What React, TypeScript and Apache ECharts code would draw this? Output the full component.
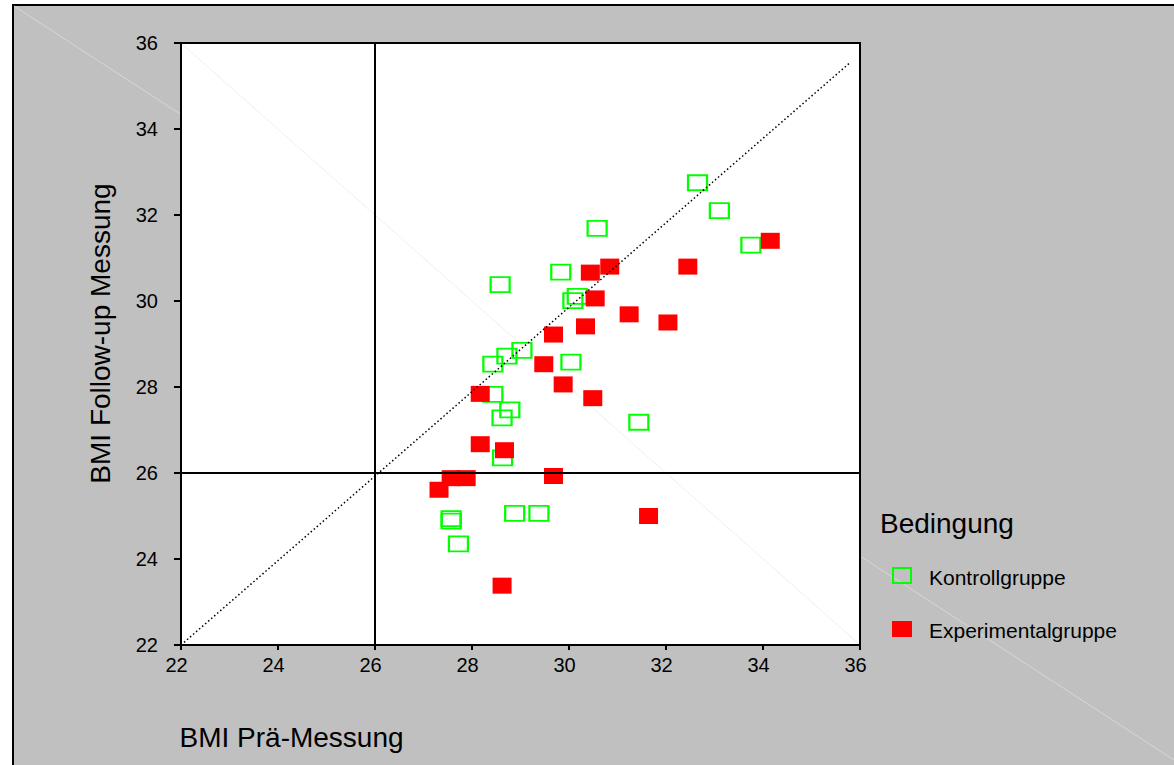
import React, { useEffect, useRef } from "react";
import * as echarts from "echarts";

// ---- Data ----
const axisMin = 22;
const axisMax = 36;
const axisStep = 2;

const kontrollPre = [32.65, 33.1, 30.58, 33.75, 29.83, 28.58, 30.08, 30.17, 28.72, 29.03, 28.43, 30.04, 28.43, 28.78, 28.62, 31.44, 28.63, 27.57, 27.57, 28.88, 29.38, 27.72];
const kontrollFollow = [32.75, 32.1, 31.69, 31.3, 30.67, 30.38, 30.01, 30.11, 28.72, 28.85, 28.53, 28.58, 27.83, 27.47, 27.28, 27.18, 26.35, 24.94, 24.88, 25.06, 25.06, 24.35];

const expPre = [34.15, 32.45, 30.84, 30.44, 30.54, 31.24, 32.04, 30.34, 29.68, 29.48, 29.88, 30.49, 28.17, 28.17, 28.67, 29.68, 27.57, 27.88, 27.32, 31.64, 28.62];
const expFollow = [31.4, 30.8, 30.8, 30.66, 30.06, 29.69, 29.5, 29.41, 29.22, 28.53, 28.06, 27.74, 27.84, 26.67, 26.53, 25.93, 25.88, 25.88, 25.61, 25.0, 23.38];

const refX = 26;
const refY = 26;
const diagonalLine = [
  [22, 22],
  [35.8, 35.55],
];

const seriesNames = ["Kontrollgruppe", "Experimentalgruppe"];
const legendTitle = "Bedingung";
const xTitle = "BMI Prä-Messung";
const yTitle = "BMI Follow-up Messung";

const FONT = "'Liberation Sans', Arial, sans-serif";

export default function App() {
  const ref = useRef<HTMLDivElement>(null);

  useEffect(() => {
    document.body.style.margin = "0";
    if (!ref.current) return;
    const chart = echarts.init(ref.current, null, { renderer: "svg" });

    const kontrollData = kontrollPre.map((x, i) => [x, kontrollFollow[i]]);
    const expData = expPre.map((x, i) => [x, expFollow[i]]);

    const option: any = {
      animation: false,
      backgroundColor: "#ffffff",
      grid: {
        left: 181,
        right: 314,
        top: 43,
        bottom: 120,
        show: true,
        backgroundColor: "#ffffff",
        borderColor: "#000000",
        borderWidth: 2,
      },
      xAxis: {
        type: "value",
        min: axisMin,
        max: axisMax,
        interval: axisStep,
        axisLine: { show: false },
        splitLine: { show: false },
        axisTick: { show: true, length: 5, lineStyle: { color: "#000", width: 2 } },
        axisLabel: {
          fontSize: 20,
          color: "#000",
          fontFamily: FONT,
          margin: 10,
          padding: [0, 9, 0, 0],
        },
      },
      yAxis: {
        type: "value",
        min: axisMin,
        max: axisMax,
        interval: axisStep,
        axisLine: { show: false },
        splitLine: { show: false },
        axisTick: { show: true, length: 7, lineStyle: { color: "#000", width: 2 } },
        axisLabel: {
          fontSize: 20,
          color: "#000",
          fontFamily: FONT,
          margin: 23,
        },
      },
      graphic: [
        {
          type: "rect",
          z: -10,
          shape: { x: 13, y: 5, width: 1200, height: 800 },
          style: { fill: "#c0c0c0", stroke: "#000", lineWidth: 2 },
          silent: true,
        },
        {
          type: "line",
          z: -9,
          shape: { x1: 14, y1: 6, x2: 1174, y2: 760 },
          style: { stroke: "#d6d6d6", lineWidth: 1 },
          silent: true,
        },
        {
          type: "line",
          z: 1,
          shape: { x1: 182, y1: 44, x2: 859, y2: 644 },
          style: { stroke: "#efefef", lineWidth: 1 },
          silent: true,
        },
        {
          type: "text",
          x: 179.5,
          y: 737,
          style: {
            text: xTitle,
            fontSize: 28,
            fontFamily: FONT,
            fill: "#000",
            align: "left",
            verticalAlign: "middle",
          },
        },
        {
          type: "text",
          x: 100,
          y: 333.5,
          rotation: Math.PI / 2,
          style: {
            text: yTitle,
            fontSize: 28,
            fontFamily: FONT,
            fill: "#000",
            align: "center",
            verticalAlign: "middle",
          },
        },
        {
          type: "text",
          x: 880,
          y: 523.5,
          style: {
            text: legendTitle,
            fontSize: 28,
            fontFamily: FONT,
            fill: "#000",
            align: "left",
            verticalAlign: "middle",
          },
        },
        {
          type: "rect",
          shape: { x: 893, y: 568, width: 18, height: 15 },
          style: { fill: "none", stroke: "#00ff00", lineWidth: 2 },
        },
        {
          type: "text",
          x: 929,
          y: 577.7,
          style: {
            text: seriesNames[0],
            fontSize: 21,
            fontFamily: FONT,
            fill: "#000",
            align: "left",
            verticalAlign: "middle",
          },
        },
        {
          type: "rect",
          shape: { x: 892, y: 621, width: 20, height: 16 },
          style: { fill: "#ff0000" },
        },
        {
          type: "text",
          x: 929,
          y: 630,
          style: {
            text: seriesNames[1],
            fontSize: 21,
            fontFamily: FONT,
            fill: "#000",
            align: "left",
            verticalAlign: "middle",
          },
        },
      ],
      series: [
        {
          name: seriesNames[0],
          type: "scatter",
          data: kontrollData,
          symbol: "rect",
          symbolSize: [19, 15],
          itemStyle: { color: "rgba(0,0,0,0)", borderColor: "#00ff00", borderWidth: 2, opacity: 1 },
          z: 3,
        },
        {
          name: seriesNames[1],
          type: "scatter",
          data: expData,
          symbol: "rect",
          symbolSize: [19, 16],
          itemStyle: { color: "#ff0000", opacity: 1 },
          z: 4,
        },
        {
          type: "line",
          data: [
            [refX, axisMin],
            [refX, axisMax],
          ],
          symbol: "none",
          silent: true,
          lineStyle: { color: "#000", width: 2 },
          z: 5,
        },
        {
          type: "line",
          data: [
            [axisMin, refY],
            [axisMax, refY],
          ],
          symbol: "none",
          silent: true,
          lineStyle: { color: "#000", width: 2 },
          z: 5,
        },
        {
          type: "line",
          data: diagonalLine,
          symbol: "none",
          silent: true,
          lineStyle: { color: "#000", width: 1.5, type: [1.5, 2.5] },
          z: 5,
        },
      ],
    };

    chart.setOption(option);
    return () => chart.dispose();
  }, []);

  return <div ref={ref} style={{ width: 1174, height: 765 }} />;
}
